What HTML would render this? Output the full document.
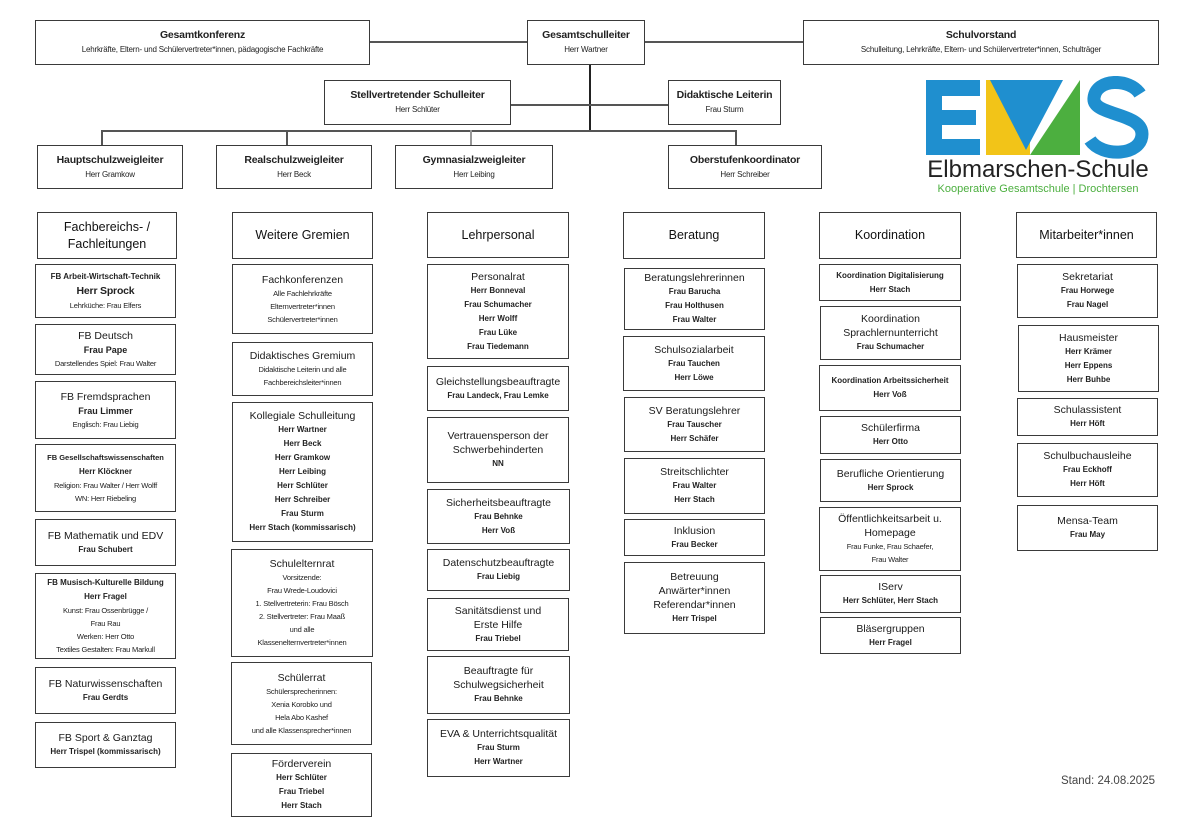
<!DOCTYPE html>
<html><head><meta charset="utf-8">
<style>
body{margin:0;width:1200px;height:822px;background:#fff;position:relative;overflow:hidden;font-family:"Liberation Sans",sans-serif;color:#222}
.b{position:absolute;border:1.5px solid #3a3a3a;box-sizing:border-box;display:flex;flex-direction:column;justify-content:center;align-items:center;text-align:center;background:#fff;white-space:nowrap}
.t{font-size:10.5px;line-height:14px;color:#1a1a1a}
.tb{font-size:10.5px;font-weight:bold;line-height:15px;letter-spacing:-0.2px}
.n{font-size:8px;font-weight:bold;line-height:14px}
.s{font-size:7.5px;line-height:13px;letter-spacing:-0.2px}
.s2{font-size:8px;line-height:14px;letter-spacing:-0.2px}
.h{font-size:12.5px;line-height:17px;color:#111}
.l{position:absolute;background:#555}
</style></head><body>
<div class="l" style="left:370px;top:41px;width:157px;height:1.5px"></div>
<div class="l" style="left:645px;top:41px;width:158px;height:1.5px"></div>
<div class="l" style="left:589px;top:65px;width:2px;height:66px;background:#222"></div>
<div class="l" style="left:511px;top:104px;width:157px;height:1.5px"></div>
<div class="l" style="left:101px;top:130px;width:635px;height:1.5px"></div>
<div class="l" style="left:101px;top:130px;width:1.5px;height:15px"></div>
<div class="l" style="left:286px;top:130px;width:1.5px;height:15px"></div>
<div class="l" style="left:470px;top:130px;width:1.5px;height:15px;background:#999"></div>
<div class="l" style="left:735px;top:130px;width:1.5px;height:15px"></div>

<div class="b" style="left:35px;top:20px;width:335px;height:45px"><div class="tb">Gesamtkonferenz</div><div class="s2">Lehrkräfte, Eltern- und Schülervertreter*innen, pädagogische Fachkräfte</div></div>
<div class="b" style="left:527px;top:20px;width:118px;height:45px"><div class="tb">Gesamtschulleiter</div><div class="s2">Herr Wartner</div></div>
<div class="b" style="left:803px;top:20px;width:356px;height:45px"><div class="tb">Schulvorstand</div><div class="s2">Schulleitung, Lehrkräfte, Eltern- und Schülervertreter*innen, Schulträger</div></div>
<div class="b" style="left:324px;top:80px;width:187px;height:45px"><div class="tb">Stellvertretender Schulleiter</div><div class="s2">Herr Schlüter</div></div>
<div class="b" style="left:668px;top:80px;width:113px;height:45px"><div class="tb">Didaktische Leiterin</div><div class="s2">Frau Sturm</div></div>
<div class="b" style="left:37px;top:145px;width:146px;height:44px"><div class="tb">Hauptschulzweigleiter</div><div class="s2">Herr Gramkow</div></div>
<div class="b" style="left:216px;top:145px;width:156px;height:44px"><div class="tb">Realschulzweigleiter</div><div class="s2">Herr Beck</div></div>
<div class="b" style="left:395px;top:145px;width:158px;height:44px"><div class="tb">Gymnasialzweigleiter</div><div class="s2">Herr Leibing</div></div>
<div class="b" style="left:668px;top:145px;width:154px;height:44px"><div class="tb">Oberstufenkoordinator</div><div class="s2">Herr Schreiber</div></div>

<svg style="position:absolute;left:918px;top:76px" width="240" height="125" viewBox="0 0 240 125">
<path d="M8 4 H62 V20 H24 V34 H58 V49 H24 V63 H62 V79 H8 Z" fill="#1f8fcf"/>
<polygon points="68,4 112,4 112,79 68,79" fill="#f2c418"/>
<polygon points="72,4 145,4 108,74" fill="#1f8fcf"/>
<polygon points="112,79 162,79 162,4" fill="#4caf3f"/>
<polygon points="68,4 104,74 68,74" fill="#f2c418"/>
<path d="M222 18 C212 2 178 2 176 22 C174 40 224 36 224 58 C224 80 184 82 172 64" fill="none" stroke="#1f8fcf" stroke-width="13"/>
<text x="120" y="101" font-family="Liberation Sans" font-size="24" fill="#222" text-anchor="middle">Elbmarschen-Schule</text>
<text x="120" y="116" font-family="Liberation Sans" font-size="11" fill="#4caf3f" text-anchor="middle">Kooperative Gesamtschule | Drochtersen</text>
</svg>

<div class="b" style="left:37px;top:212px;width:140px;height:47px"><div class="h">Fachbereichs- /</div><div class="h">Fachleitungen</div></div>
<div class="b" style="left:35px;top:264px;width:141px;height:54px"><div class="n">FB Arbeit-Wirtschaft-Technik</div><div class="tb">Herr Sprock</div><div class="s">Lehrküche: Frau Elfers</div></div>
<div class="b" style="left:35px;top:324px;width:141px;height:51px"><div class="t">FB Deutsch</div><div class="n" style="font-size:9px">Frau Pape</div><div class="s">Darstellendes Spiel: Frau Walter</div></div>
<div class="b" style="left:35px;top:381px;width:141px;height:58px"><div class="t">FB Fremdsprachen</div><div class="n" style="font-size:9px">Frau Limmer</div><div class="s">Englisch: Frau Liebig</div></div>
<div class="b" style="left:35px;top:444px;width:141px;height:68px"><div class="n" style="font-size:7.5px">FB Gesellschaftswissenschaften</div><div class="n">Herr Klöckner</div><div class="s">Religion: Frau Walter / Herr Wolff</div><div class="s">WN: Herr Riebeling</div></div>
<div class="b" style="left:35px;top:519px;width:141px;height:47px"><div class="t">FB Mathematik und EDV</div><div class="n">Frau Schubert</div></div>
<div class="b" style="left:35px;top:573px;width:141px;height:86px"><div class="n">FB Musisch-Kulturelle Bildung</div><div class="n">Herr Fragel</div><div class="s">Kunst: Frau Ossenbrügge /</div><div class="s">Frau Rau</div><div class="s">Werken: Herr Otto</div><div class="s">Textiles Gestalten: Frau Markull</div></div>
<div class="b" style="left:35px;top:667px;width:141px;height:47px"><div class="t">FB Naturwissenschaften</div><div class="n">Frau Gerdts</div></div>
<div class="b" style="left:35px;top:722px;width:141px;height:46px"><div class="t">FB Sport &amp; Ganztag</div><div class="n">Herr Trispel (kommissarisch)</div></div>

<div class="b" style="left:232px;top:212px;width:141px;height:47px"><div class="h">Weitere Gremien</div></div>
<div class="b" style="left:232px;top:264px;width:141px;height:70px"><div class="t">Fachkonferenzen</div><div class="s">Alle Fachlehrkräfte</div><div class="s">Elternvertreter*innen</div><div class="s">Schülervertreter*innen</div></div>
<div class="b" style="left:232px;top:342px;width:141px;height:54px"><div class="t">Didaktisches Gremium</div><div class="s">Didaktische Leiterin und alle</div><div class="s">Fachbereichsleiter*innen</div></div>
<div class="b" style="left:232px;top:402px;width:141px;height:140px"><div class="t">Kollegiale Schulleitung</div><div class="n">Herr Wartner</div><div class="n">Herr Beck</div><div class="n">Herr Gramkow</div><div class="n">Herr Leibing</div><div class="n">Herr Schlüter</div><div class="n">Herr Schreiber</div><div class="n">Frau Sturm</div><div class="n">Herr Stach (kommissarisch)</div></div>
<div class="b" style="left:231px;top:549px;width:142px;height:108px"><div class="t">Schulelternrat</div><div class="s">Vorsitzende:</div><div class="s">Frau Wrede-Loudovici</div><div class="s">1. Stellvertreterin: Frau Bösch</div><div class="s">2. Stellvertreter: Frau Maaß</div><div class="s">und alle</div><div class="s">Klassenelternvertreter*innen</div></div>
<div class="b" style="left:231px;top:662px;width:141px;height:83px"><div class="t">Schülerrat</div><div class="s">Schülersprecherinnen:</div><div class="s">Xenia Korobko und</div><div class="s">Hela Abo Kashef</div><div class="s">und alle Klassensprecher*innen</div></div>
<div class="b" style="left:231px;top:753px;width:141px;height:64px"><div class="t">Förderverein</div><div class="n">Herr Schlüter</div><div class="n">Frau Triebel</div><div class="n">Herr Stach</div></div>

<div class="b" style="left:427px;top:212px;width:142px;height:46px"><div class="h">Lehrpersonal</div></div>
<div class="b" style="left:427px;top:264px;width:142px;height:95px"><div class="t">Personalrat</div><div class="n">Herr Bonneval</div><div class="n">Frau Schumacher</div><div class="n">Herr Wolff</div><div class="n">Frau Lüke</div><div class="n">Frau Tiedemann</div></div>
<div class="b" style="left:427px;top:366px;width:142px;height:45px"><div class="t">Gleichstellungsbeauftragte</div><div class="n">Frau Landeck, Frau Lemke</div></div>
<div class="b" style="left:427px;top:417px;width:142px;height:66px"><div class="t">Vertrauensperson der</div><div class="t">Schwerbehinderten</div><div class="n">NN</div></div>
<div class="b" style="left:427px;top:489px;width:143px;height:55px"><div class="t">Sicherheitsbeauftragte</div><div class="n">Frau Behnke</div><div class="n">Herr Voß</div></div>
<div class="b" style="left:427px;top:549px;width:143px;height:42px"><div class="t">Datenschutzbeauftragte</div><div class="n">Frau Liebig</div></div>
<div class="b" style="left:427px;top:598px;width:142px;height:53px"><div class="t">Sanitätsdienst und</div><div class="t">Erste Hilfe</div><div class="n">Frau Triebel</div></div>
<div class="b" style="left:427px;top:656px;width:143px;height:58px"><div class="t">Beauftragte für</div><div class="t">Schulwegsicherheit</div><div class="n">Frau Behnke</div></div>
<div class="b" style="left:427px;top:719px;width:143px;height:58px"><div class="t">EVA &amp; Unterrichtsqualität</div><div class="n">Frau Sturm</div><div class="n">Herr Wartner</div></div>

<div class="b" style="left:623px;top:212px;width:142px;height:47px"><div class="h">Beratung</div></div>
<div class="b" style="left:624px;top:268px;width:141px;height:62px"><div class="t">Beratungslehrerinnen</div><div class="n">Frau Barucha</div><div class="n">Frau Holthusen</div><div class="n">Frau Walter</div></div>
<div class="b" style="left:623px;top:336px;width:142px;height:55px"><div class="t">Schulsozialarbeit</div><div class="n">Frau Tauchen</div><div class="n">Herr Löwe</div></div>
<div class="b" style="left:624px;top:397px;width:141px;height:55px"><div class="t">SV Beratungslehrer</div><div class="n">Frau Tauscher</div><div class="n">Herr Schäfer</div></div>
<div class="b" style="left:624px;top:458px;width:141px;height:56px"><div class="t">Streitschlichter</div><div class="n">Frau Walter</div><div class="n">Herr Stach</div></div>
<div class="b" style="left:624px;top:519px;width:141px;height:37px"><div class="t">Inklusion</div><div class="n">Frau Becker</div></div>
<div class="b" style="left:624px;top:562px;width:141px;height:72px"><div class="t">Betreuung</div><div class="t">Anwärter*innen</div><div class="t">Referendar*innen</div><div class="n">Herr Trispel</div></div>

<div class="b" style="left:819px;top:212px;width:142px;height:47px"><div class="h">Koordination</div></div>
<div class="b" style="left:819px;top:264px;width:142px;height:37px"><div class="n">Koordination Digitalisierung</div><div class="n">Herr Stach</div></div>
<div class="b" style="left:820px;top:306px;width:141px;height:54px"><div class="t">Koordination</div><div class="t">Sprachlernunterricht</div><div class="n">Frau Schumacher</div></div>
<div class="b" style="left:819px;top:365px;width:142px;height:46px"><div class="n">Koordination Arbeitssicherheit</div><div class="n">Herr Voß</div></div>
<div class="b" style="left:820px;top:416px;width:141px;height:38px"><div class="t">Schülerfirma</div><div class="n">Herr Otto</div></div>
<div class="b" style="left:820px;top:459px;width:141px;height:43px"><div class="t">Berufliche Orientierung</div><div class="n">Herr Sprock</div></div>
<div class="b" style="left:819px;top:507px;width:142px;height:64px"><div class="t">Öffentlichkeitsarbeit u.</div><div class="t">Homepage</div><div class="s">Frau Funke, Frau Schaefer,</div><div class="s">Frau Walter</div></div>
<div class="b" style="left:820px;top:575px;width:141px;height:38px"><div class="t">IServ</div><div class="n">Herr Schlüter, Herr Stach</div></div>
<div class="b" style="left:820px;top:617px;width:141px;height:37px"><div class="t">Bläsergruppen</div><div class="n">Herr Fragel</div></div>

<div class="b" style="left:1016px;top:212px;width:141px;height:46px"><div class="h">Mitarbeiter*innen</div></div>
<div class="b" style="left:1017px;top:264px;width:141px;height:54px"><div class="t">Sekretariat</div><div class="n">Frau Horwege</div><div class="n">Frau Nagel</div></div>
<div class="b" style="left:1018px;top:325px;width:141px;height:67px"><div class="t">Hausmeister</div><div class="n">Herr Krämer</div><div class="n">Herr Eppens</div><div class="n">Herr Buhbe</div></div>
<div class="b" style="left:1017px;top:398px;width:141px;height:38px"><div class="t">Schulassistent</div><div class="n">Herr Höft</div></div>
<div class="b" style="left:1017px;top:443px;width:141px;height:54px"><div class="t">Schulbuchausleihe</div><div class="n">Frau Eckhoff</div><div class="n">Herr Höft</div></div>
<div class="b" style="left:1017px;top:505px;width:141px;height:46px"><div class="t">Mensa-Team</div><div class="n">Frau May</div></div>

<div style="position:absolute;left:1061px;top:775px;font-size:11.5px;color:#444">Stand: 24.08.2025</div>
</body></html>
